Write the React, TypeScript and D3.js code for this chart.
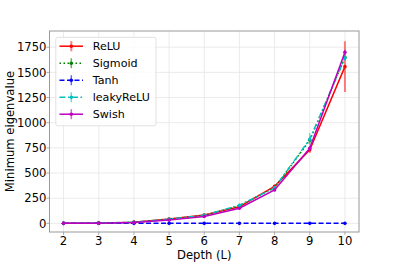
import React from "react";
import * as d3 from "d3";

const depths = [2, 3, 4, 5, 6, 7, 8, 9, 10];
const reluVals = [0, 2, 12, 42, 82, 165, 368, 730, 1557];
const reluErr = [1, 1, 3, 5, 8, 10, 15, 30, 252];
const sigmoidVals = [0, 2, 10, 39, 79, 176, 354, 825, 1648];
const sigmoidErr = [1, 1, 2, 4, 6, 8, 12, 30, 20];
const tanhVals = [0, 0, 0, 0, 0, 0, 0, 0, 0];
const tanhErr = [0.5, 0.5, 0.5, 0.5, 0.5, 0.5, 0.5, 0.5, 0.5];
const leakyVals = [0, 2, 11, 40, 80, 180, 352, 835, 1645];
const leakyErr = [1, 1, 3, 5, 7, 9, 12, 60, 25];
const swishVals = [0, 2, 9, 32, 68, 150, 332, 745, 1700];
const swishErr = [1, 1, 2, 4, 6, 8, 12, 25, 25];
const seriesNames = ["ReLU", "Sigmoid", "Tanh", "leakyReLU", "Swish"];
const xTicks = [2, 3, 4, 5, 6, 7, 8, 9, 10];
const yTicks = [0, 250, 500, 750, 1000, 1250, 1500, 1750];

const series = [
  { name: seriesNames[0], vals: reluVals, err: reluErr, color: "#ff0000", dash: "", ecolor: "rgba(255,0,0,0.5)", ew: 2 },
  { name: seriesNames[1], vals: sigmoidVals, err: sigmoidErr, color: "#008000", dash: "1.5,2.5", ecolor: "rgba(0,128,0,0.6)", ew: 1.5 },
  { name: seriesNames[2], vals: tanhVals, err: tanhErr, color: "#0000ff", dash: "5,2.5", ecolor: "rgba(0,0,255,0.6)", ew: 1.5 },
  { name: seriesNames[3], vals: leakyVals, err: leakyErr, color: "#00bfbf", dash: "6,2.5,1.5,2.5", ecolor: "rgba(0,191,191,0.6)", ew: 1.5 },
  { name: seriesNames[4], vals: swishVals, err: swishErr, color: "#bf00bf", dash: "", ecolor: "rgba(191,0,191,0.6)", ew: 1.5 },
];

export default function App() {
  const W = 399, H = 266;
  const L = 49.5, R = 359, T = 31, B = 232;
  const x = d3.scaleLinear().domain([1.6, 10.4]).range([L, R]);
  const y = d3.scaleLinear().domain([-86, 1911]).range([B, T]);
  const font = "DejaVu Sans, sans-serif";
  const fs = 11.6;
  const lfs = 11.1;
  const line = (vals: number[]) =>
    d3.line<number>().x((_, i) => x(depths[i])).y((v) => y(v))(vals) || "";

  return (
    <svg width={W} height={H} style={{ position: "absolute", left: 0, top: 0 }} fontFamily={font}>
      <rect x={0} y={0} width={W} height={H} fill="#fff" />
      {xTicks.map((t) => (
        <line key={"gx" + t} x1={x(t)} x2={x(t)} y1={T} y2={B} stroke="#e6e6e6" strokeWidth={0.8} />
      ))}
      {yTicks.map((t) => (
        <line key={"gy" + t} x1={L} x2={R} y1={y(t)} y2={y(t)} stroke="#e6e6e6" strokeWidth={0.8} />
      ))}
      {series.map((s) => (
        <g key={s.name}>
          {s.vals.map((v, i) => (
            <line key={i} x1={x(depths[i])} x2={x(depths[i])} y1={y(v - s.err[i])} y2={y(v + s.err[i])}
              stroke={s.ecolor} strokeWidth={s.ew} />
          ))}
          <path d={line(s.vals)} fill="none" stroke={s.color} strokeWidth={1.5} strokeDasharray={s.dash} />
          {s.vals.map((v, i) => (
            <circle key={"m" + i} cx={x(depths[i])} cy={y(v)} r={1.8} fill={s.color} />
          ))}
        </g>
      ))}
      <rect x={L} y={T} width={R - L} height={B - T} fill="none" stroke="#999" strokeWidth={1} />
      {xTicks.map((t) => (
        <g key={"xt" + t}>
          <line x1={x(t)} x2={x(t)} y1={B} y2={B + 3} stroke="#999" strokeWidth={0.8} />
          <text x={x(t)} y={244.5} textAnchor="middle" fontSize={fs} fill="#000">{t}</text>
        </g>
      ))}
      {yTicks.map((t) => (
        <g key={"yt" + t}>
          <line x1={L - 3} x2={L} y1={y(t)} y2={y(t)} stroke="#999" strokeWidth={0.8} />
          <text x={L - 3} y={y(t)} dy="0.36em" textAnchor="end" fontSize={fs} fill="#000">{t}</text>
        </g>
      ))}
      <text x={(L + R) / 2} y={258.5} textAnchor="middle" fontSize={fs} fill="#000">Depth (L)</text>
      <text transform={`translate(13.5,${(T + B) / 2}) rotate(-90)`} textAnchor="middle" fontSize={fs} fill="#000">Minimum eigenvalue</text>
      <g>
        <rect x={55.8} y={37.3} width={100.2} height={88.5} rx={2} fill="rgba(255,255,255,0.8)" stroke="#d9d9d9" strokeWidth={0.8} />
        {series.map((s, i) => {
          const ly = 46.2 + i * 17;
          return (
            <g key={"lg" + s.name}>
              <line x1={59.5} x2={83} y1={ly} y2={ly} stroke={s.color} strokeWidth={1.5} strokeDasharray={s.dash} />
              <line x1={71.3} x2={71.3} y1={ly - 5} y2={ly + 5} stroke={s.ecolor} strokeWidth={s.ew} />
              <circle cx={71.3} cy={ly} r={1.8} fill={s.color} />
              <text x={92.7} y={ly} dy="0.36em" fontSize={lfs} fill="#000">{s.name}</text>
            </g>
          );
        })}
      </g>
    </svg>
  );
}
